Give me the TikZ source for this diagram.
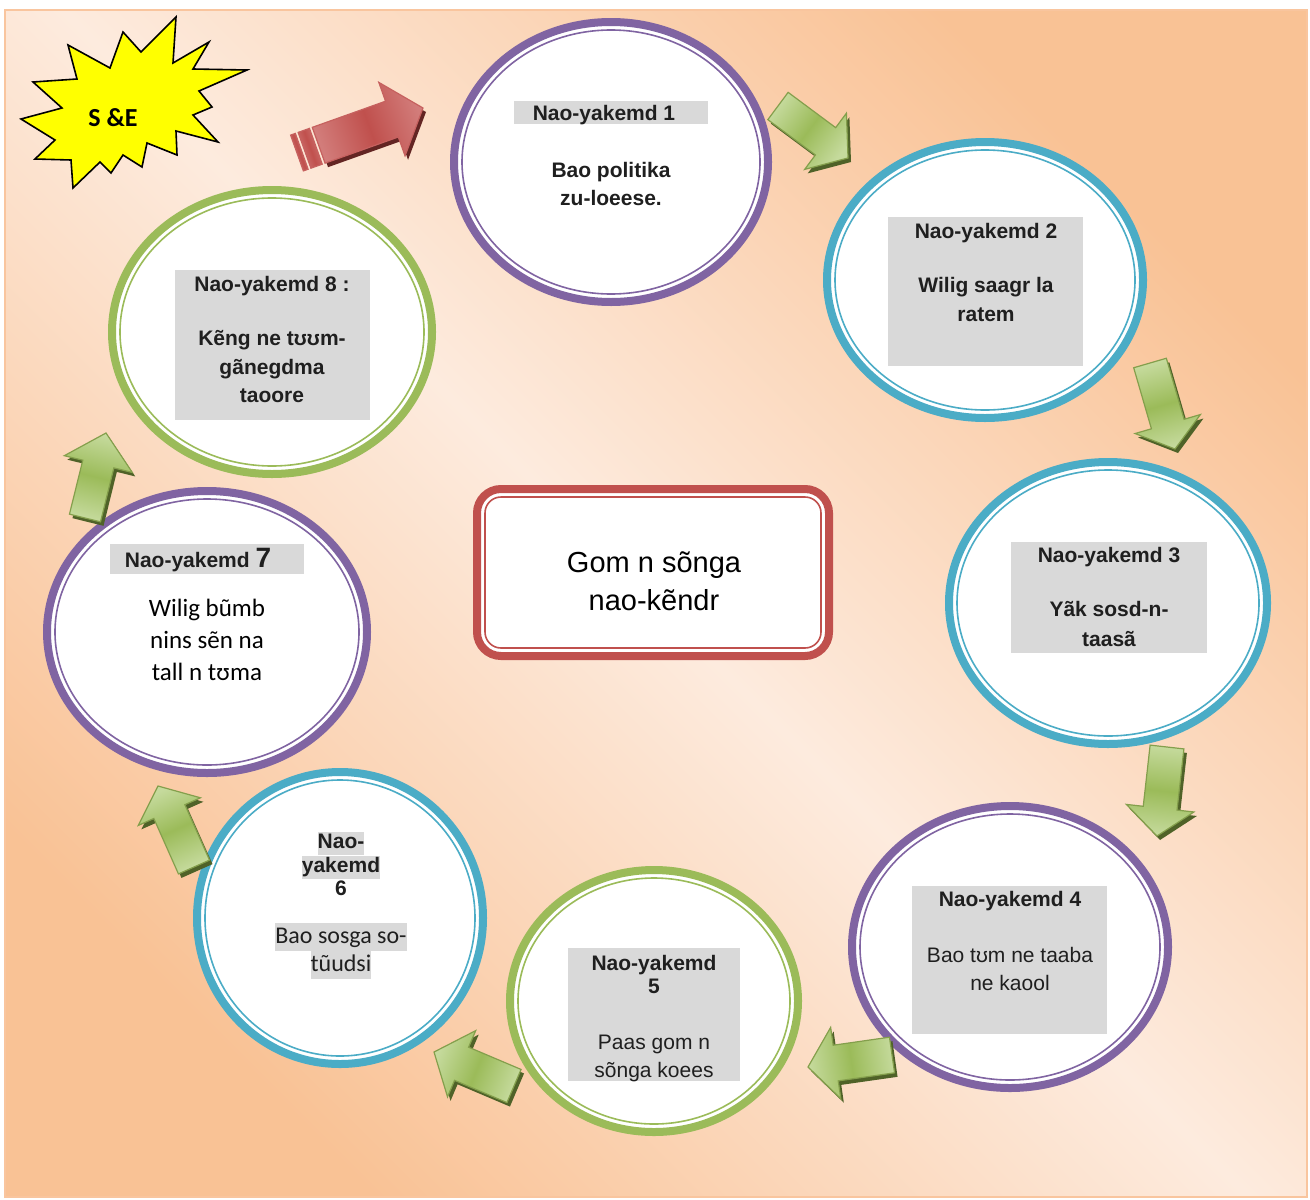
\documentclass[tikz,border=0pt]{standalone}
\usepackage{fontspec}
\setmainfont{Liberation Sans}
\newfontfamily\calib{Carlito}
\usetikzlibrary{shapes.geometric,calc}
\definecolor{purp}{HTML}{8064A2}
\definecolor{blu}{HTML}{4BACC6}
\definecolor{grn}{HTML}{9BBB59}
\definecolor{rd}{HTML}{C0504D}
\definecolor{gry}{HTML}{D9D9D9}
\definecolor{bgor}{RGB}{249,194,149}
\definecolor{bglt}{RGB}{253,235,222}
\definecolor{bgline}{RGB}{249,197,158}
\definecolor{grnlt}{HTML}{C5DA9C}
\definecolor{grndk}{HTML}{4F6228}
\definecolor{rdlt}{HTML}{D27C7A}
\definecolor{rddk}{HTML}{632523}
\definecolor{txt}{HTML}{1F1F1F}
\definecolor{staryel}{HTML}{FFFF00}

\newcommand{\hl}[1]{{\setlength{\fboxsep}{0pt}\colorbox{gry}{\strut #1}}}
\newcommand{\noskiplimit}{\lineskiplimit=-100pt\relax}

% tail, tip, half shaft, half head, head length, style, shadow style, shading angle
\newcommand{\blockarrow}[8]{%
  \path ($(#2)!#5!(#1)$) coordinate (hb);
  \path ($(#1)!#3!90:(#2)$) coordinate (p1);
  \path ($(hb)!#3!90:(#2)$) coordinate (p2);
  \path ($(hb)!#4!90:(#2)$) coordinate (p3);
  \path ($(hb)!#4!-90:(#2)$) coordinate (p5);
  \path ($(hb)!#3!-90:(#2)$) coordinate (p6);
  \path ($(#1)!#3!-90:(#2)$) coordinate (p7);
  \fill[#7] ($(p1)+(3,4)$) -- ($(p2)+(3,4)$) -- ($(p3)+(3,4)$) -- ($(#2)+(3,4)$) -- ($(p5)+(3,4)$) -- ($(p6)+(3,4)$) -- ($(p7)+(3,4)$) -- cycle;
  \shadedraw[#6, shading angle=#8] (p1) -- (p2) -- (p3) -- (#2) -- (p5) -- (p6) -- (p7) -- cycle;
}

\tikzset{
  ring/.style={ellipse, draw=#1, line width=4pt, fill=white, inner sep=0pt},
  inring/.style={ellipse, draw=#1, line width=0.8pt, inner sep=0pt},
  greybox/.style={fill=gry, inner sep=0pt},
  hd/.style={font=\bfseries\fontsize{10.5}{14.25}\selectfont, align=center, inner sep=0pt, text=txt},
  garrow/.style={top color=grnlt, bottom color=grnlt, middle color=grn, draw=grn!85!black, line width=0.6pt},
  rarrow/.style={top color=rdlt, bottom color=rdlt, middle color=rd, draw=rd!90!white, line width=0.6pt},
  gshadow/.style={fill=grndk},
  rshadow/.style={fill=rddk},
}

\begin{document}
\begin{tikzpicture}[x=0.5pt,y=-0.5pt]
\useasboundingbox (0,0) rectangle (1310,1199);
\fill[white] (0,0) rectangle (1310,1199);
% background
\shade[top color=bgor, bottom color=bgor, middle color=bglt, shading angle=-45] (5,10) rectangle (1307,1197);
\draw[bgline, line width=1pt] (5,10) rectangle (1307,1197);

% star
\draw[fill=staryel, line width=0.8pt, line join=miter]
  (176,17) -- (173,63) -- (209,42) -- (193,69) -- (247,70) -- (199,91) -- (212,107) -- (193,115)
  -- (218,142) -- (176,131) -- (177,155) -- (147,143) -- (142,167) -- (123,155) -- (111,173)
  -- (100,162) -- (73,188) -- (71,160) -- (35,159) -- (55,140) -- (21,119) -- (62,108)
  -- (33,82) -- (77,79) -- (68,45) -- (110,68) -- (123,32) -- (141,52) -- cycle;
\node[font=\calib\bfseries\fontsize{13}{13}\selectfont, inner sep=0pt] (se) at (113,118) {S \&E};

% circles
\node[ring=purp, minimum width=157pt, minimum height=140pt] (c1) at (611,162) {};
\node[inring=purp, minimum width=149pt, minimum height=132pt] (c1i) at (611,162) {};
\node[ring=blu, minimum width=158pt, minimum height=138pt] (c2) at (985,280) {};
\node[inring=blu, minimum width=150pt, minimum height=130pt] (c2i) at (985,280) {};
\node[ring=blu, minimum width=159pt, minimum height=141pt] (c3) at (1108,603) {};
\node[inring=blu, minimum width=151pt, minimum height=133pt] (c3i) at (1108,603) {};
\node[ring=purp, minimum width=158pt, minimum height=141pt] (c4) at (1010,947) {};
\node[inring=purp, minimum width=150pt, minimum height=133pt] (c4i) at (1010,947) {};
\node[ring=grn, minimum width=144pt, minimum height=131pt] (c5) at (654,1001) {};
\node[inring=grn, minimum width=136pt, minimum height=123pt] (c5i) at (654,1001) {};
\node[ring=blu, minimum width=143pt, minimum height=146pt] (c6) at (340,918) {};
\node[inring=blu, minimum width=135pt, minimum height=138pt] (c6i) at (340,918) {};
\node[ring=purp, minimum width=160pt, minimum height=141pt] (c7) at (207,632) {};
\node[inring=purp, minimum width=152pt, minimum height=133pt] (c7i) at (207,632) {};
\node[ring=grn, minimum width=160pt, minimum height=142pt] (c8) at (272,332) {};
\node[inring=grn, minimum width=152pt, minimum height=134pt] (c8i) at (272,332) {};

% grey boxes
\node[greybox, minimum width=97pt, minimum height=11.5pt] (g1) at (611,112.5) {};
\node[greybox, minimum width=97.5pt, minimum height=74.5pt] (g2) at (985.5,291.5) {};
\node[greybox, minimum width=98pt, minimum height=55.5pt] (g3) at (1109,597.5) {};
\node[greybox, minimum width=97.5pt, minimum height=74pt] (g4) at (1009.5,960) {};
\node[greybox, minimum width=86pt, minimum height=66.5pt] (g5) at (654,1014.5) {};
\node[greybox, minimum width=97pt, minimum height=15pt] (g7) at (207,559) {};
\node[greybox, minimum width=97.5pt, minimum height=75pt] (g8) at (272.5,345) {};

% texts
\node[hd, anchor=base] (t1h) at (604,120.5) {Nao-yakemd 1};
\node[hd, anchor=north] (t1b) at (611,161.5) {Bao politika\\zu-loeese.};
\node[hd, anchor=north] (t2) at (986,222.5) {Nao-yakemd 2\\[13pt]Wilig saagr la\\ratem};
\node[hd, anchor=north] (t3) at (1109,546.5) {Nao-yakemd 3\\[13pt]Yãk sosd-n-\\[0.75pt]taasã};
\node[hd, anchor=north] (t4) at (1010,890.5) {Nao-yakemd 4\\[13.75pt]{\mdseries Bao tʊm ne taaba}\\{\mdseries ne kaool}};
\node[hd, anchor=north] (t5) at (654,954.5) {Nao-yakemd\\[-2.75pt]5\\[13.75pt]{\mdseries Paas gom n}\\{\mdseries sõnga koees}};
\node[hd, font=\bfseries\fontsize{10.5}{11.5}\selectfont\noskiplimit, anchor=north] (t6) at (341,831.5)
  {\hl{Nao-}\\[0.5pt]\hl{yakemd}\\6\\[12.5pt]{\calib\mdseries\fontsize{12}{14}\selectfont\hl{Bao sosga so-}}\\[2.5pt]{\calib\mdseries\fontsize{12}{14}\selectfont\hl{tũudsi}}};
\node[hd, anchor=base] (t7h) at (198,567.5) {Nao-yakemd {\fontsize{14}{14}\selectfont 7}};
\node[font=\calib\fontsize{12.5}{16}\selectfont, align=center, inner sep=0pt, text=black, anchor=north] (t7b) at (207,599) {Wilig bũmb\\nins sẽn na\\tall n tʊma};
\node[hd, anchor=north] (t8) at (272,275.5) {Nao-yakemd 8 :\\[13pt]Kẽng ne tʊʊm-\\gãnegdma\\taoore};

% center box
\node[draw=rd, line width=4pt, fill=white, rounded corners=12pt, minimum width=176pt, minimum height=83.5pt] (cb) at (653,572.5) {};
\node[draw=rd, line width=0.8pt, rounded corners=8pt, minimum width=168pt, minimum height=75.5pt] (cbi) at (653,572.5) {};
\node[font=\fontsize{14.5}{19}\selectfont, align=center, inner sep=0pt, text=black] (ct) at (654,581) {Gom n sõnga\\nao-kẽndr};

% arrow coordinates
\coordinate (aA1) at (778,106);  \coordinate (aA2) at (848,158);
\coordinate (aB1) at (1150,363); \coordinate (aB2) at (1175,449);
\coordinate (aC1) at (1167,747); \coordinate (aC2) at (1157,836);
\coordinate (aD1) at (892,1055); \coordinate (aD2) at (808,1067);
\coordinate (aE1) at (514,1086); \coordinate (aE2) at (434,1052);
\coordinate (aF1) at (194,867);  \coordinate (aF2) at (158,786);
\coordinate (aG1) at (85,518);   \coordinate (aG2) at (106,433);
\coordinate (r1) at (297,153);   \coordinate (r2) at (423,108);

\blockarrow{aA1}{aA2}{8.5pt}{17.5pt}{14pt}{garrow}{gshadow}{53}
\blockarrow{aB1}{aB2}{8.5pt}{17pt}{13pt}{garrow}{gshadow}{16}
\blockarrow{aC1}{aC2}{8.5pt}{17pt}{14pt}{garrow}{gshadow}{-6}
\blockarrow{aD1}{aD2}{9pt}{18pt}{14pt}{garrow}{gshadow}{98}
\blockarrow{aE1}{aE2}{9pt}{18pt}{15pt}{garrow}{gshadow}{68}
\blockarrow{aF1}{aF2}{8.5pt}{17pt}{14pt}{garrow}{gshadow}{24}
\blockarrow{aG1}{aG2}{8pt}{17.5pt}{16pt}{garrow}{gshadow}{-14}

% red arrow with striped tail
\path ($(r1)!2.5pt!(r2)$) coordinate (rs1);
\path ($(r1)!4pt!(r2)$) coordinate (rs2);
\path ($(r1)!10pt!(r2)$) coordinate (rs3);
\path ($(r1)!11.5pt!(r2)$) coordinate (rs4);
\blockarrow{rs4}{r2}{9.5pt}{19.5pt}{16.5pt}{rarrow}{rshadow}{-70}
\shadedraw[rarrow, shading angle=-70] ($(r1)!9.5pt!90:(r2)$) -- ($(rs1)!9.5pt!90:(r2)$) -- ($(rs1)!9.5pt!-90:(r2)$) -- ($(r1)!9.5pt!-90:(r2)$) -- cycle;
\shadedraw[rarrow, shading angle=-70] ($(rs2)!9.5pt!90:(r2)$) -- ($(rs3)!9.5pt!90:(r2)$) -- ($(rs3)!9.5pt!-90:(r2)$) -- ($(rs2)!9.5pt!-90:(r2)$) -- cycle;
\end{tikzpicture}
\end{document}
